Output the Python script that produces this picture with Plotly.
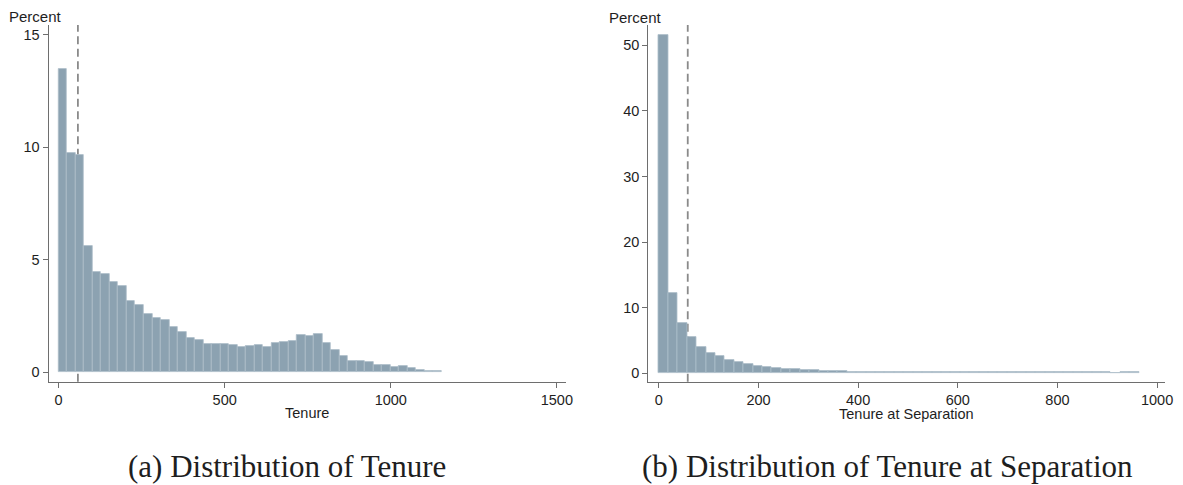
import plotly.graph_objects as go

# ---- data -------------------------------------------------------------
# Panel (a): share of workers by tenure (days), equal-width bins from 0
tenure_bin_start = 0.0
tenure_bin_width = 25.6
tenure_pct = [
    13.49, 9.74, 9.66, 5.63, 4.45, 4.36, 3.99, 3.84, 3.16, 2.98,
    2.58, 2.39, 2.30, 2.02, 1.79, 1.50, 1.42, 1.25, 1.25, 1.25,
    1.19, 1.11, 1.16, 1.20, 1.11, 1.29, 1.36, 1.38, 1.66, 1.59,
    1.70, 1.29, 0.99, 0.71, 0.52, 0.50, 0.46, 0.33, 0.33, 0.24,
    0.28, 0.19, 0.09, 0.07, 0.04,
]

# Panel (b): share of separations by tenure at separation (days)
sep_bin_start = 0.0
sep_bin_width = 18.9
sep_pct = [
    51.6, 12.3, 7.72, 5.54, 3.96, 3.05, 2.59, 1.98, 1.68, 1.42,
    1.07, 0.97, 0.81, 0.71, 0.61, 0.56, 0.46, 0.36, 0.36, 0.30,
    0.25, 0.22, 0.21, 0.20, 0.19, 0.18, 0.17, 0.16, 0.16, 0.15,
    0.15, 0.14, 0.14, 0.14, 0.13, 0.13, 0.13, 0.13, 0.13, 0.13,
    0.13, 0.13, 0.13, 0.13, 0.13, 0.13, 0.13, 0.13, 0.0, 0.13,
    0.13,
]

# reference tenure marked by the dashed line (days)
ref_line_days = 58

tenure_ticks = [0, 500, 1000, 1500]
sep_ticks = [0, 200, 400, 600, 800, 1000]
pct_ticks_a = [0, 5, 10, 15]
pct_ticks_b = [0, 10, 20, 30, 40, 50]

x_title_a = "Tenure"
x_title_b = "Tenure at Separation"
y_title = "Percent"
caption_a = "(a) Distribution of Tenure"
caption_b = "(b) Distribution of Tenure at Separation"

# ---- styling ----------------------------------------------------------
W, H = 1183, 485
BAR = "#8ca2b1"
EDGE = "#aebfca"
AXIS = "#6e6e6e"
TEXT = "#1e1e1e"
SANS = "Liberation Sans, Arial, sans-serif"
SERIF = "Liberation Serif, Times New Roman, serif"


def fx(px):
    return px / W


def fy(px):
    return 1 - px / H


def centers(start, width, n):
    return [start + width * (i + 0.5) for i in range(n)]


fig = go.Figure()
fig.add_trace(go.Bar(
    x=centers(tenure_bin_start, tenure_bin_width, len(tenure_pct)),
    y=tenure_pct, width=tenure_bin_width,
    marker=dict(color=BAR, line=dict(color=EDGE, width=0.8)),
    xaxis="x", yaxis="y", hoverinfo="x+y", showlegend=False,
))
fig.add_trace(go.Bar(
    x=centers(sep_bin_start, sep_bin_width, len(sep_pct)),
    y=sep_pct, width=sep_bin_width,
    marker=dict(color=BAR, line=dict(color=EDGE, width=0.8)),
    xaxis="x2", yaxis="y2", hoverinfo="x+y", showlegend=False,
))

axis_common = dict(
    showline=True, linecolor=AXIS, linewidth=1.3,
    ticks="outside", ticklen=5, tickwidth=1.2, tickcolor=AXIS,
    showgrid=False, zeroline=False, fixedrange=True,
    tickfont=dict(family=SANS, size=14.5, color=TEXT),
    tickmode="array",
)

y_dom = [fy(381.7), fy(25)]

fig.update_layout(
    width=W, height=H, autosize=False,
    margin=dict(l=0, r=0, t=0, b=0),
    paper_bgcolor="white", plot_bgcolor="white",
    bargap=0, barmode="overlay",
    xaxis=dict(domain=[fx(49), fx(570)], range=[-30, 1528], anchor="y",
               tickvals=tenure_ticks, **axis_common),
    yaxis=dict(domain=y_dom, range=[-0.42, 15.43], anchor="x",
               tickvals=pct_ticks_a, **axis_common),
    xaxis2=dict(domain=[fx(652.8), fx(1173)], range=[-21, 1016], anchor="y2",
                tickvals=sep_ticks, **axis_common),
    yaxis2=dict(domain=y_dom, range=[-1.28, 53.1], anchor="x2",
                tickvals=pct_ticks_b, **axis_common),
)

# dashed reference lines, drawn beneath the bars
for xr, yr in (("x", "y domain"), ("x2", "y2 domain")):
    fig.add_shape(type="line", xref=xr, yref=yr,
                  x0=ref_line_days, x1=ref_line_days, y0=0, y1=1,
                  layer="below",
                  line=dict(color="#8a8a8a", width=1.8, dash="8px,4.5px"))


def note(text, x, y, size, family, xanchor="center"):
    fig.add_annotation(text=text, x=fx(x), y=fy(y), xref="paper", yref="paper",
                       xanchor=xanchor, yanchor="middle", showarrow=False,
                       borderpad=0,
                       font=dict(family=family, size=size, color=TEXT))


note(y_title, 8, 17, 15, SANS, xanchor="left")
note(y_title, 612, 18, 15, SANS, xanchor="left")
note(x_title_a, 309.5, 413, 14.5, SANS)
note(x_title_b, 912.9, 414, 14.5, SANS)
note(caption_a, 289, 466.5, 31, SERIF)
note(caption_b, 893.5, 466.5, 31, SERIF)

fig.write_html("out.html", config=dict(displayModeBar=False))
